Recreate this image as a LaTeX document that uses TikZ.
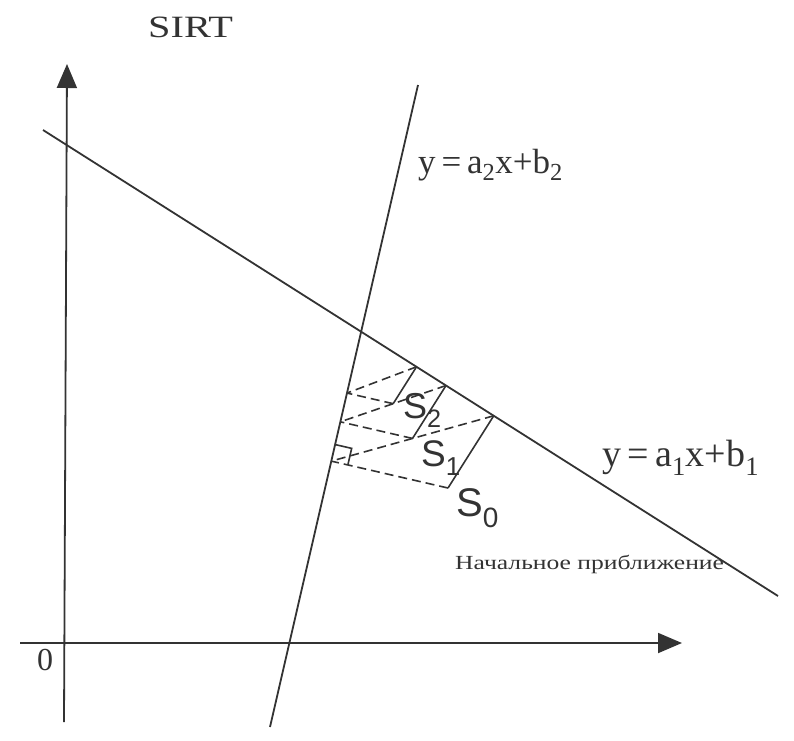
\documentclass[tikz,border=0pt]{standalone}
\usepackage{fontspec}
\setmainfont{Liberation Serif}
\newfontfamily\sansf{Liberation Sans}
\usetikzlibrary{calc,arrows.meta}
\definecolor{ink}{HTML}{333333}
\tikzset{
  axis/.style={draw=ink, line width=1.8pt, -{Triangle[length=24pt,width=20pt]}},
  gline/.style={draw=ink, line width=1.8pt},
  proj/.style={draw=ink, line width=1.6pt},
  dline/.style={draw=ink, line width=1.6pt, dash pattern=on 9pt off 5pt},
  lbl/.style={text=ink, inner sep=0pt, anchor=west},
}
\begin{document}
\begin{tikzpicture}[x=1pt,y=-1pt]
\useasboundingbox (0,0) rectangle (794,740);
% axes
\coordinate (xs) at (20,643);
\coordinate (xe) at (682,643);
\coordinate (ys) at (64,722);
\coordinate (ye) at (67,64);
\draw[axis] (xs) -- (xe);
\draw[axis] (ys) -- (ye);
% lines
\coordinate (L1a) at (43,130);
\coordinate (L1b) at (778,596);
\coordinate (L2a) at (270,727);
\coordinate (L2b) at (418,85);
\draw[gline] (L1a) -- (L1b);
\draw[gline] (L2a) -- (L2b);
% iterations
\coordinate (S0) at (448,488);
\coordinate (A0) at ($(L1a)!(S0)!(L1b)$);
\coordinate (B0) at ($(L2a)!(S0)!(L2b)$);
\coordinate (S1) at ($(A0)!0.5!(B0)$);
\coordinate (A1) at ($(L1a)!(S1)!(L1b)$);
\coordinate (B1) at ($(L2a)!(S1)!(L2b)$);
\coordinate (S2) at ($(A1)!0.5!(B1)$);
\coordinate (A2) at ($(L1a)!(S2)!(L1b)$);
\coordinate (B2) at ($(L2a)!(S2)!(L2b)$);
\draw[proj] (S0) -- (A0);
\draw[dline] (S0) -- (B0);
\draw[dline] (A0) -- (B0);
\draw[proj] (S1) -- (A1);
\draw[dline] (S1) -- (B1);
\draw[dline] (A1) -- (B1);
\draw[proj] (S2) -- (A2);
\draw[dline] (S2) -- (B2);
\draw[dline] (A2) -- (B2);
% right angle marker
\coordinate (m1) at ($(B0)!17pt!(S0)$);
\coordinate (m2) at ($(B0)!17pt!(L2b)$);
\coordinate (m3) at ($(m1)+(m2)-(B0)$);
\draw[proj] (m1) -- (m3) -- (m2);
% labels
\node[lbl] (title) at (148,27) {\fontsize{31}{33}\selectfont\scalebox{1.3}[1]{SIRT}};
\node[lbl] (eq2) at (418,165) {\fontsize{35}{37}\selectfont y\,=\,a\textsubscript{2}x+b\textsubscript{2}};
\node[lbl] (eq1) at (602,458) {\fontsize{38}{40}\selectfont y\,=\,a\textsubscript{1}x+b\textsubscript{1}};
\node[lbl] (s0) at (456,508) {\sansf\fontsize{40}{42}\selectfont S\textsubscript{0}};
\node[lbl] (s1) at (421,458) {\sansf\fontsize{37}{39}\selectfont S\textsubscript{1}};
\node[lbl] (s2) at (403,410) {\sansf\fontsize{36}{38}\selectfont S\textsubscript{2}};
\node[lbl] (init) at (455,564) {\fontsize{20}{22}\selectfont\scalebox{1.28}[1]{Начальное приближение}};
\node[text=ink, inner sep=0pt] (zero) at (45,660) {\fontsize{32}{34}\selectfont 0};
\end{tikzpicture}
\end{document}
